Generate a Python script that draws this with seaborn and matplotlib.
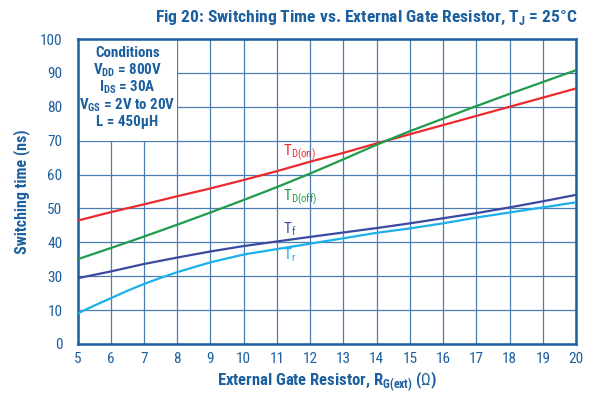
import numpy as np
import pandas as pd
import matplotlib
matplotlib.use("Agg")
import matplotlib.pyplot as plt
from matplotlib import font_manager
import seaborn as sns

# ---- data (switching times in ns vs external gate resistance in ohm) ----
r_on = [5, 6, 7, 8, 9, 10, 11, 12, 13, 14, 15, 17, 18, 20]
td_on = [46.4, 48.9, 51.2, 53.6, 55.9, 58.4, 61.0, 63.8, 66.4, 69.2, 71.9,
         77.3, 80.0, 85.4]

r_off = [5, 6, 7, 8, 9, 10, 11, 12, 13, 14, 15, 17, 18, 20]
td_off = [35.0, 38.3, 41.7, 45.2, 48.8, 52.5, 56.3, 60.3, 64.5, 68.8, 72.8,
          80.2, 83.8, 90.8]

r_f = [5, 6, 7, 8, 9, 10, 12, 14, 15, 16, 17, 18, 19, 20]
t_f = [28.8, 31.4, 33.6, 35.5, 37.3, 38.9, 41.6, 44.2, 45.6, 47.1, 48.6,
       50.3, 52.1, 54.0]

r_r = [5, 5.5, 6, 6.5, 7, 7.5, 8, 9, 10, 12, 14, 15, 16, 17, 18, 19, 20]
t_r = [9.0, 12.6, 17.0, 21.4, 25.4, 29.0, 31.2, 34.1, 36.4, 39.6, 42.8,
       44.1, 45.6, 47.3, 48.8, 50.3, 51.8]

x_ticks = list(range(5, 21))
y_ticks = [0, 10, 30, 40, 50, 60, 70, 80, 90, 100]

conditions = ["Conditions",
              r"V$_{\mathregular{DD}}$ = 800V",
              r"I$_{\mathregular{DS}}$ = 30A",
              r"V$_{\mathregular{GS}}$ = 2V to 20V",
              "L = 450µH"]
condition_rows = [94.7, 89.6, 84.6, 79.3, 74.3]

BLUE = "#1c5f9f"
GRID = "#4a7db0"
C_ON = "#ec2a2e"
C_OFF = "#1f9b4a"
C_F = "#3b4aa0"
C_R = "#1ab0ea"

sns.set_style("white")
available = {f.name for f in font_manager.fontManager.ttflist}
family = next((f for f in ["Liberation Sans Narrow", "DejaVu Sans Condensed",
                           "Roboto Condensed", "Roboto", "DejaVu Sans"]
               if f in available), "DejaVu Sans")
plt.rcParams["font.family"] = [family, "DejaVu Sans"]
plt.rcParams["mathtext.fontset"] = "custom"
plt.rcParams["mathtext.rm"] = family
plt.rcParams["mathtext.bf"] = family + ":bold"

frames = []
for name, xs, ys in [("on", r_on, td_on), ("off", r_off, td_off),
                     ("f", r_f, t_f), ("r", r_r, t_r)]:
    frames.append(pd.DataFrame({"R": xs, "t": ys, "series": name}))
df = pd.concat(frames, ignore_index=True)

fig = plt.figure(figsize=(5.92, 3.94), dpi=100)
ax = fig.add_axes([0.131, 0.127, 0.842, 0.774])


# the time axis has equal spacing for its labels 0,10,30,...,100
def fwd(v):
    v = np.asarray(v, dtype=float)
    return np.where(v <= 10, v, np.where(v <= 30, 10 + (v - 10) / 2, v - 10))


def inv(p):
    p = np.asarray(p, dtype=float)
    return np.where(p <= 10, p, np.where(p <= 20, 10 + 2 * (p - 10), p + 10))


ax.set_yscale("function", functions=(fwd, inv))

sns.lineplot(data=df, x="R", y="t", hue="series",
             palette={"on": C_ON, "off": C_OFF, "f": C_F, "r": C_R},
             linewidth=1.6, legend=False, ax=ax, zorder=3)

ax.set_xlim(5, 20)
ax.set_ylim(0, 100)
ax.set_xticks(x_ticks)
ax.set_yticks(y_ticks)
ax.set_xticklabels([str(t) for t in x_ticks])
ax.set_yticklabels([str(t) for t in y_ticks])
ax.tick_params(length=0, labelsize=11, labelcolor=BLUE)
ax.tick_params(axis="y", pad=11)
ax.tick_params(axis="x", pad=6)
ax.grid(True, color=GRID, linewidth=0.9, zorder=1)
ax.set_axisbelow(True)
for s in ax.spines.values():
    s.set_color(BLUE)
    s.set_linewidth(1.8)

ax.set_xlabel(r"External Gate Resistor, R$_{\mathregular{G(ext)}}$ ($\Omega$)",
              fontsize=12, fontweight="bold", color=BLUE, labelpad=2)
ax.set_ylabel("Switching time (ns)", fontsize=11.5, fontweight="bold",
              color=BLUE, labelpad=7)

# conditions panel in the upper-left cells
ax.fill_between([5, 8], 70, 100, color="white", zorder=2, linewidth=0)
for txt, yv in zip(conditions, condition_rows):
    ax.text(6.5, yv, txt, ha="center", va="baseline", fontsize=10.8,
            color=BLUE, zorder=4, fontweight="bold")

# curve labels
ax.text(11.17, 66.3, r"T$_{\mathregular{D(on)}}$", color=C_ON, fontsize=11,
        ha="left", va="center", zorder=4)
ax.text(11.17, 53.0, r"T$_{\mathregular{D(off)}}$", color=C_OFF, fontsize=11,
        ha="left", va="center", zorder=4)
ax.text(11.17, 43.9, r"T$_{\mathregular{f}}$", color=C_F, fontsize=11,
        ha="left", va="center", zorder=4)
ax.text(11.17, 36.3, r"T$_{\mathregular{r}}$", color=C_R, fontsize=11,
        ha="left", va="center", zorder=4)

fig.text(0.618, 0.955, r"Fig 20: Switching Time vs. External Gate Resistor, T$_{\mathregular{J}}$ = 25°C",
         ha="center", va="center", fontsize=12.6, fontweight="bold", color=BLUE)

fig.savefig("out.png", dpi=100)
